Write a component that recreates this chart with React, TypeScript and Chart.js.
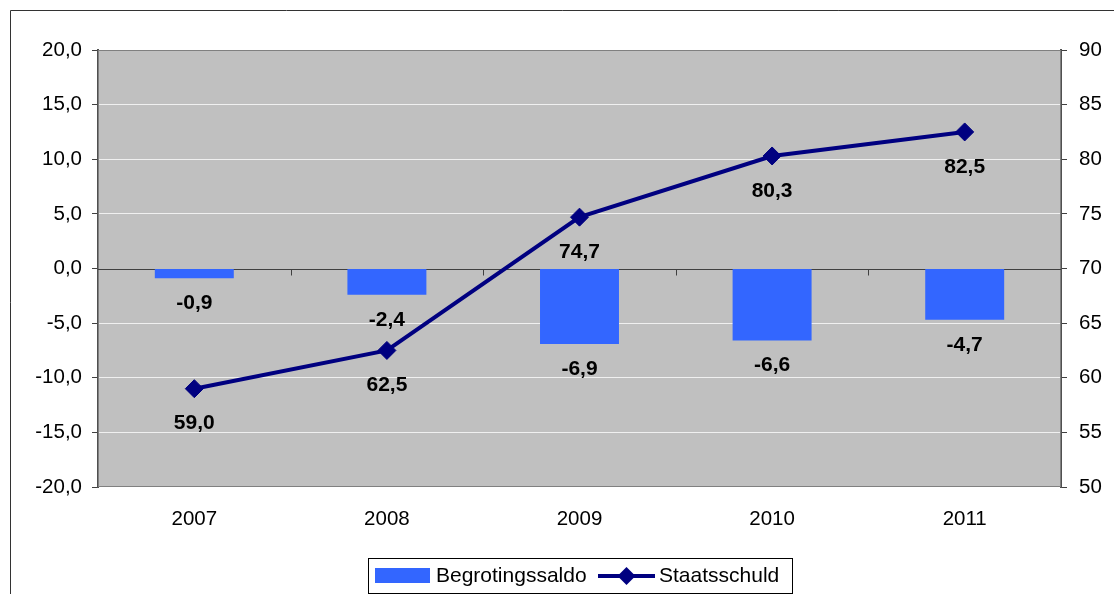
import React, { useEffect, useRef } from "react";
import { Chart, registerables } from "chart.js";

Chart.register(...registerables);

const categories = ["2007", "2008", "2009", "2010", "2011"];
const saldoValues = [-0.9, -2.4, -6.9, -6.6, -4.7];
const schuldValues = [59.0, 62.5, 74.7, 80.3, 82.5];
const saldoLabel = "Begrotingssaldo";
const schuldLabel = "Staatsschuld";

const BAR_COLOR = "#3366FF";
const LINE_COLOR = "#000080";
const FONT = "Arial, 'Liberation Sans', sans-serif";

const fmt1 = (v: number) => v.toFixed(1).replace(".", ",");

const decorPlugin = {
  id: "decor",
  beforeDraw(chart: any) {
    const { ctx, chartArea: a } = chart;
    ctx.save();
    // outer border
    ctx.strokeStyle = "#333333";
    ctx.lineWidth = 1;
    ctx.beginPath();
    ctx.moveTo(10.5, 600);
    ctx.lineTo(10.5, 10.5);
    ctx.lineTo(1200, 10.5);
    ctx.stroke();
    // plot background
    ctx.fillStyle = "#C0C0C0";
    ctx.fillRect(a.left, a.top, a.right - a.left, a.bottom - a.top);
    ctx.restore();
  },
  beforeDatasetsDraw(chart: any) {
    const { ctx, chartArea: a, scales } = chart;
    const y0 = Math.round(scales.y.getPixelForValue(0)) + 0.5;
    ctx.save();
    ctx.strokeStyle = "#808080";
    ctx.lineWidth = 1;
    ctx.strokeRect(a.left + 0.5, a.top + 0.5, a.right - a.left - 1, a.bottom - a.top - 1);
    ctx.strokeStyle = "#404040";
    ctx.beginPath();
    ctx.moveTo(a.left, y0);
    ctx.lineTo(a.right, y0);
    const n = categories.length;
    const w = (a.right - a.left) / n;
    for (let i = 1; i < n; i++) {
      const x = Math.round(a.left + i * w) + 0.5;
      ctx.moveTo(x, y0);
      ctx.lineTo(x, y0 + 6);
    }
    ctx.stroke();
    ctx.restore();
  },
  afterDatasetsDraw(chart: any) {
    const { ctx } = chart;
    ctx.save();
    ctx.font = `bold 21px ${FONT}`;
    ctx.fillStyle = "#000000";
    ctx.textAlign = "center";
    ctx.textBaseline = "middle";
    const barMeta = chart.getDatasetMeta(0);
    barMeta.data.forEach((el: any, i: number) => {
      const v = saldoValues[i];
      const yEnd = el.y;
      const yy = v < 0 ? yEnd + 25 : yEnd - 25;
      ctx.fillText(fmt1(v), el.x, yy);
    });
    const lineMeta = chart.getDatasetMeta(1);
    lineMeta.data.forEach((el: any, i: number) => {
      ctx.fillText(fmt1(schuldValues[i]), el.x, el.y + 35);
    });
    // legend
    const lx = 368.5, ly = 558.5, lw = 424, lh = 35;
    ctx.fillStyle = "#FFFFFF";
    ctx.fillRect(lx, ly, lw, lh);
    ctx.strokeStyle = "#000000";
    ctx.lineWidth = 1;
    ctx.strokeRect(lx, ly, lw, lh);
    const cy = 576;
    ctx.fillStyle = BAR_COLOR;
    ctx.fillRect(375, 568, 55, 15);
    ctx.font = `21px ${FONT}`;
    ctx.fillStyle = "#000000";
    ctx.textAlign = "left";
    ctx.fillText(saldoLabel, 436, cy);
    ctx.strokeStyle = LINE_COLOR;
    ctx.lineWidth = 4;
    ctx.beginPath();
    ctx.moveTo(598, cy);
    ctx.lineTo(655, cy);
    ctx.stroke();
    ctx.fillStyle = LINE_COLOR;
    ctx.beginPath();
    ctx.moveTo(626.5 - 9, cy);
    ctx.lineTo(626.5, cy - 9);
    ctx.lineTo(626.5 + 9, cy);
    ctx.lineTo(626.5, cy + 9);
    ctx.closePath();
    ctx.fill();
    ctx.fillStyle = "#000000";
    ctx.fillText(schuldLabel, 659, cy);
    ctx.restore();
  },
};

export default function App() {
  const ref = useRef<HTMLCanvasElement | null>(null);
  useEffect(() => {
    if (!ref.current) return;
    const chart = new Chart(ref.current, {
      type: "bar",
      data: {
        labels: categories,
        datasets: [
          {
            type: "bar",
            label: saldoLabel,
            data: saldoValues,
            backgroundColor: BAR_COLOR,
            borderWidth: 0,
            barPercentage: 0.41,
            categoryPercentage: 1,
            yAxisID: "y",
            order: 2,
          },
          {
            type: "line",
            label: schuldLabel,
            data: schuldValues,
            borderColor: LINE_COLOR,
            backgroundColor: LINE_COLOR,
            borderWidth: 4,
            pointStyle: "rectRot",
            pointRadius: 9,
            pointBorderWidth: 1,
            pointBackgroundColor: LINE_COLOR,
            pointBorderColor: LINE_COLOR,
            tension: 0,
            yAxisID: "y1",
            order: 1,
          },
        ],
      },
      options: {
        responsive: false,
        animation: false,
        layout: { padding: { top: 50, left: 0, right: 0, bottom: 0 } },
        plugins: { legend: { display: false }, tooltip: { enabled: false } },
        scales: {
          x: {
            offset: true,
            grid: { display: false, drawTicks: false },
            border: { display: false },
            ticks: { color: "#000", font: { family: FONT, size: 20.5 }, padding: 20 },
            afterFit: (s: any) => { s.height = 107; },
          },
          y: {
            position: "left",
            min: -20,
            max: 20,
            ticks: {
              stepSize: 5,
              color: "#000",
              font: { family: FONT, size: 20.5 },
              padding: 10,
              callback: (v: any) => fmt1(Number(v)),
            },
            grid: {
              color: (c: any) => (c.tick && (c.tick.value === 0 || Math.abs(c.tick.value) === 20) ? "rgba(0,0,0,0)" : "#F0F0F0"),
              tickColor: "#404040",
              tickLength: 6,
              lineWidth: 1,
            },
            border: { color: "#505050", width: 2 },
            afterFit: (s: any) => { s.width = 98; },
          },
          y1: {
            position: "right",
            min: 50,
            max: 90,
            ticks: {
              stepSize: 5,
              color: "#000",
              font: { family: FONT, size: 20.5 },
              padding: 12,
            },
            grid: { drawOnChartArea: false, tickColor: "#404040", tickLength: 6 },
            border: { color: "#505050", width: 2 },
            afterFit: (s: any) => { s.width = 53; },
          },
        },
      },
      plugins: [decorPlugin],
    });
    return () => chart.destroy();
  }, []);
  return (
    <div style={{ position: "absolute", left: 0, top: 0, width: 1114, height: 594, overflow: "hidden", background: "#fff" }}>
      <canvas ref={ref} width={1114} height={594} style={{ display: "block" }} />
    </div>
  );
}
